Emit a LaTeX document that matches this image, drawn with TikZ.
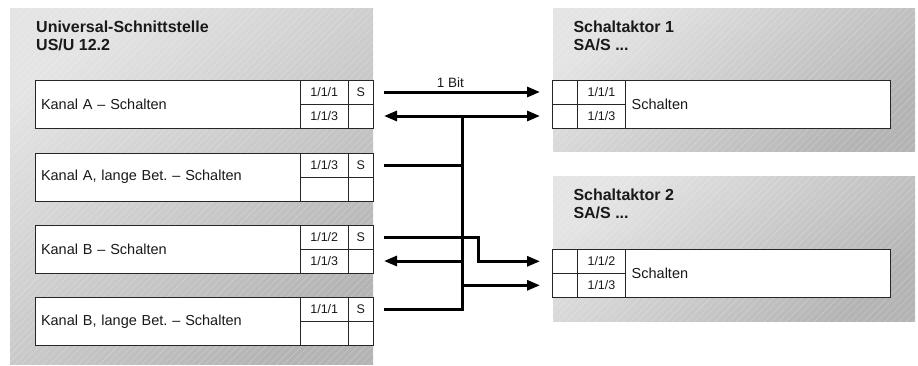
\documentclass[tikz,border=0pt]{standalone}
\usepackage{fontspec}
\setmainfont{Liberation Sans}
\usetikzlibrary{arrows.meta,patterns.meta}
\definecolor{panelhi}{RGB}{228,228,228}
\definecolor{panello}{RGB}{180,180,180}
\frenchspacing

\begin{document}
\begin{tikzpicture}[x=1pt, y=1pt,
    >={Triangle[length=13pt, width=10pt]},
    panel/.style={top color=panelhi, bottom color=panello, shading angle=40},
    hatch/.style={pattern={Lines[angle=45, distance=5pt, line width=0.4pt]}, pattern color=white, opacity=0.3},
    head/.style={anchor=north west, align=left, inner sep=0pt, text=black!90, font=\fontsize{16}{17.5}\selectfont\bfseries},
    cell/.style={draw=black!85, fill=white, line width=0.8pt, inner sep=0pt, outer sep=0pt, anchor=north west, minimum height=24pt, text=black!90, font=\fontsize{12.5}{14}\selectfont},
    num/.style={cell, minimum width=48.5pt},
    sbox/.style={cell, minimum width=24.5pt},
    chan/.style={cell, minimum height=48pt, align=left, text width=253pt, inner xsep=6pt, font=\fontsize{14.5}{16}\selectfont},
    wire/.style={line width=3pt, black},
    arr/.style={wire, ->},
    lbl/.style={above, inner sep=0pt, yshift=2.5pt, text=black!90, font=\fontsize{13.5}{15}\selectfont}
  ]
    \useasboundingbox (0,0) rectangle (918,-365);

    % gray device panels
    \shade[panel] (10,-8) rectangle (373,-364);
    \fill[hatch] (10,-8) rectangle (373,-364);
    \shade[panel] (553,-8) rectangle (915,-151.7);
    \fill[hatch] (553,-8) rectangle (915,-151.7);
    \shade[panel] (553,-176) rectangle (915,-321.7);
    \fill[hatch] (553,-176) rectangle (915,-321.7);

    \node[head] (us-t) at (36,-21) {Universal-Schnittstelle\\US/U 12.2};
    \node[head] (sa1-t) at (573.3,-21) {Schaltaktor 1\\SA/S ...};
    \node[head] (sa2-t) at (573.3,-189) {Schaltaktor 2\\SA/S ...};

    % channels of the interface
    \node[chan] (ka) at (35,-80) {Kanal A – Schalten};
    \node[num] (ka-n1) at (ka.north east) {1/1/1};
    \node[num] (ka-n2) at (ka-n1.south west) {1/1/3};
    \node[sbox] (ka-s) at (ka-n1.north east) {S};
    \node[sbox] (ka-e) at (ka-n2.north east) {};

    \node[chan] (kl) at (35,-153) {Kanal A, lange Bet. – Schalten};
    \node[num] (kl-n1) at (kl.north east) {1/1/3};
    \node[num] (kl-n2) at (kl-n1.south west) {};
    \node[sbox] (kl-s) at (kl-n1.north east) {S};
    \node[sbox] (kl-e) at (kl-n2.north east) {};

    \node[chan] (kb) at (35,-225) {Kanal B – Schalten};
    \node[num] (kb-n1) at (kb.north east) {1/1/2};
    \node[num] (kb-n2) at (kb-n1.south west) {1/1/3};
    \node[sbox] (kb-s) at (kb-n1.north east) {S};
    \node[sbox] (kb-e) at (kb-n2.north east) {};

    \node[chan] (kbl) at (35,-297.5) {Kanal B, lange Bet. – Schalten};
    \node[num] (kbl-n1) at (kbl.north east) {1/1/1};
    \node[num] (kbl-n2) at (kbl-n1.south west) {};
    \node[sbox] (kbl-s) at (kbl-n1.north east) {S};
    \node[sbox] (kbl-e) at (kbl-n2.north east) {};

    % switch actuators
    \node[sbox] (sa1-a) at (552.7,-80) {};
    \node[sbox] (sa1-b) at (sa1-a.south west) {};
    \node[num] (sa1-n1) at (sa1-a.north east) {1/1/1};
    \node[num] (sa1-n2) at (sa1-n1.south west) {1/1/3};
    \node[chan] (sa1-c) at (sa1-n1.north east) {Schalten};

    \node[sbox] (sa2-a) at (552.7,-249.3) {};
    \node[sbox] (sa2-b) at (sa2-a.south west) {};
    \node[num] (sa2-n1) at (sa2-a.north east) {1/1/2};
    \node[num] (sa2-n2) at (sa2-n1.south west) {1/1/3};
    \node[chan] (sa2-c) at (sa2-n1.north east) {Schalten};

    % group addresses
    \coordinate (bus) at (462.7,-116);
    \coordinate (jog) at (478.3,-237);

    \draw[arr, shorten <=11pt, shorten >=12.7pt] (ka-s) -- node[lbl, pos=0.43] {1 Bit} (sa1-a);
    \draw[wire, <->, shorten <=11pt, shorten >=12.7pt] (ka-e) -- (sa1-b);
    \draw[wire, shorten <=11pt] (kbl-s) -- (kbl-s -| bus) -- (bus);
    \draw[wire, shorten <=11pt] (kl-s) -- (kl-s -| bus);
    \draw[arr, shorten <=11pt, shorten >=12.7pt] (kb-s) -- (kb-s -| jog) -- (jog |- sa2-a) -- (sa2-a);
    \draw[arr, shorten >=11pt] (bus |- kb-e) -- (kb-e);
    \draw[arr, shorten >=12.7pt] (bus |- sa2-b) -- (sa2-b);
  \end{tikzpicture}
\end{document}
